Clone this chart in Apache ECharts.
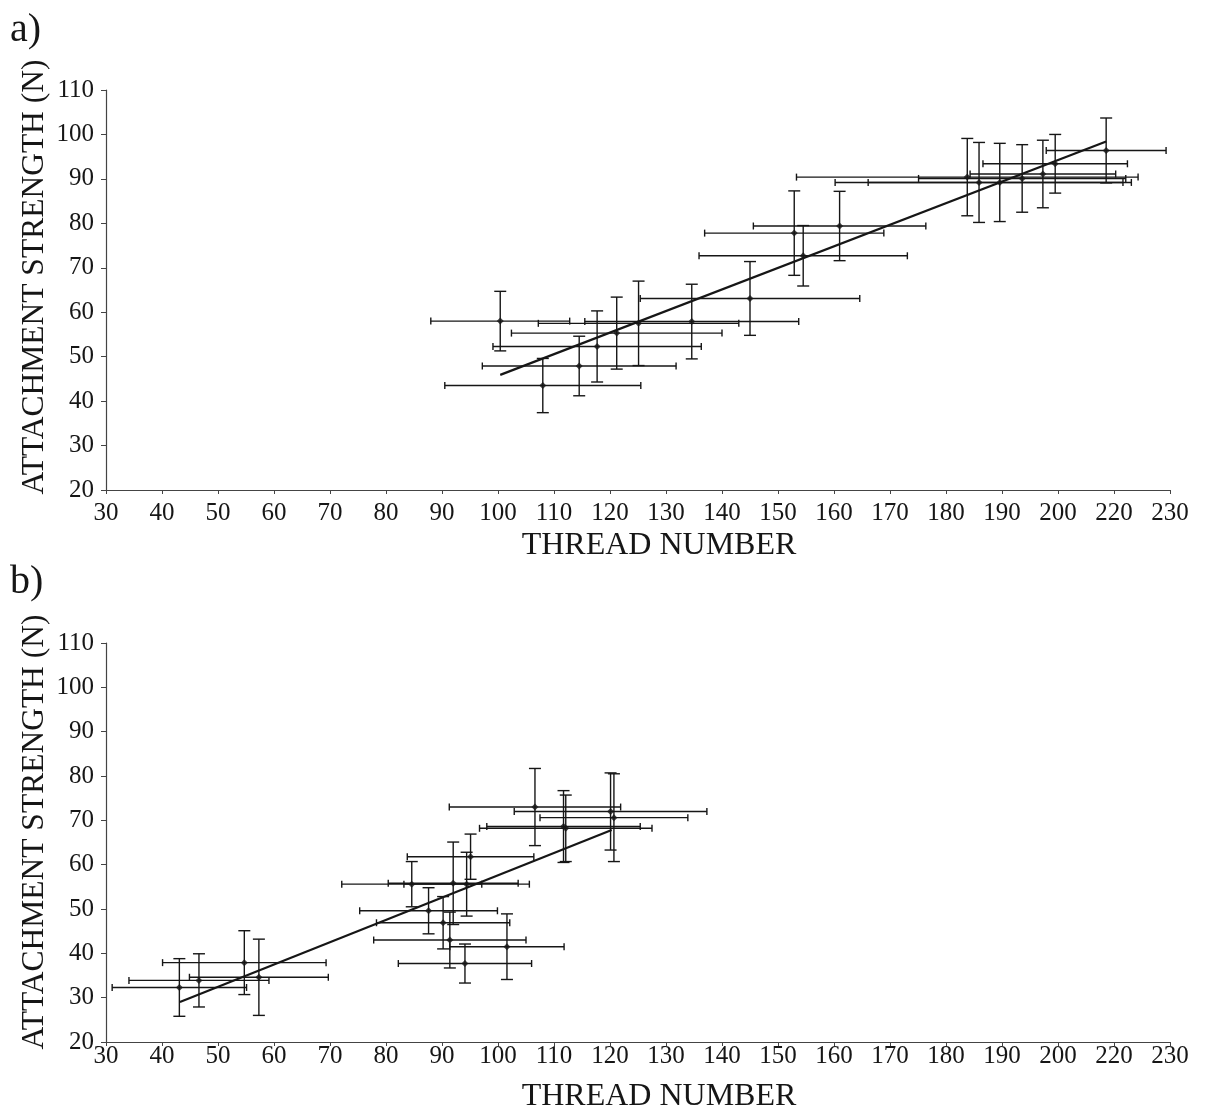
<!DOCTYPE html>
<html><head><meta charset="utf-8">
<script src="https://cdn.jsdelivr.net/npm/echarts@6/dist/echarts.min.js"></script>
<style>html,body{margin:0;padding:0;background:#fff;}#c{width:1207px;height:1118px;}</style>
</head><body><div id="c"></div>
<script>
// x tick labels as printed (the original axis skips 210)
const xTickLabels = ['30','40','50','60','70','80','90','100','110','120','130','140','150','160','170','180','190','200','220','230'];

// Panel a
const aX    = [100.4, 108.0, 114.5, 117.7, 121.2, 125.1, 134.6, 145.0, 152.9, 154.5, 161.0, 183.8, 185.9, 189.6, 193.6, 197.3, 199.5, 208.6];
const aXErr = [12.4, 17.5, 17.3, 18.6, 18.8, 17.9, 19.1, 19.6, 16.0, 18.6, 15.4, 30.5, 25.7, 23.5, 18.5, 13.0, 12.9, 10.7];
const aY    = [58.0, 43.5, 47.9, 52.3, 55.3, 57.5, 57.9, 63.1, 77.8, 72.7, 79.4, 90.4, 89.2, 89.2, 90.1, 91.1, 93.4, 96.4];
const aYErr = [6.7, 6.1, 6.7, 8.0, 8.1, 9.5, 8.4, 8.3, 9.5, 6.8, 7.8, 8.7, 9.0, 8.8, 7.6, 7.6, 6.6, 7.3];
const aFitX = [100.4, 208.6];
const aFitY = [45.9, 98.4];

// Panel b
const bX    = [43.1, 46.6, 54.7, 57.3, 84.6, 92.0, 94.4, 95.1, 87.6, 90.2, 91.4, 101.6, 94.1, 106.6, 120.1, 120.7, 111.7, 112.1];
const bXErr = [12.0, 12.5, 14.6, 12.4, 12.5, 11.6, 11.2, 11.3, 12.3, 11.9, 13.6, 10.2, 11.9, 15.3, 17.2, 13.2, 13.7, 15.4];
const bY    = [32.3, 33.9, 37.9, 34.6, 55.6, 55.8, 55.6, 61.8, 49.6, 46.9, 43.0, 41.5, 37.7, 73.0, 72.0, 70.6, 68.6, 68.2];
const bYErr = [6.5, 6.0, 7.2, 8.6, 5.1, 9.3, 7.2, 5.1, 5.2, 5.9, 6.3, 7.4, 4.4, 8.7, 8.7, 9.9, 8.1, 7.5];
const bFitX = [43.2, 120.3];
const bFitY = [29.0, 67.8];

const SERIF = '"Liberation Serif","Times New Roman",serif';
const INK = '#161616';

function rows(xs, xe, ys, ye) { return xs.map((x, i) => [x, ys[i], xe[i], ye[i]]); }
function pts(xs, ys) { return xs.map((x, i) => [x, ys[i]]); }

function errRender(params, api) {
  const x = api.value(0), y = api.value(1), xe = api.value(2), ye = api.value(3);
  const l = api.coord([x - xe, y]), r = api.coord([x + xe, y]);
  const t = api.coord([x, y + ye]), b = api.coord([x, y - ye]);
  const st = { stroke: INK, lineWidth: 1.4 };
  const cw = 6, ch = 3.5;
  const L = (x1, y1, x2, y2) => ({ type: 'line', shape: { x1, y1, x2, y2 }, style: st });
  return { type: 'group', children: [
    L(l[0], l[1], r[0], r[1]),
    L(t[0], t[1], b[0], b[1]),
    L(l[0], l[1] - ch, l[0], l[1] + ch),
    L(r[0], r[1] - ch, r[0], r[1] + ch),
    L(t[0] - cw, t[1], t[0] + cw, t[1]),
    L(b[0] - cw, b[1], b[0] + cw, b[1])
  ]};
}

function xAxisCfg(gi, margin) {
  return {
    gridIndex: gi, type: 'value', min: 30, max: 220, interval: 10,
    axisLine: { show: true, lineStyle: { color: '#444', width: 1.2 } },
    axisTick: { show: true, length: 4, lineStyle: { color: '#444' } },
    splitLine: { show: false },
    axisLabel: { interval: 0, margin: margin, color: INK, fontFamily: SERIF, fontSize: 25,
      formatter: v => xTickLabels[Math.round((v - 30) / 10)] }
  };
}
function yAxisCfg(gi) {
  return {
    gridIndex: gi, type: 'value', min: 20, max: 110, interval: 10,
    axisLine: { show: true, lineStyle: { color: '#444', width: 1.2 } },
    axisTick: { show: true, length: 5, lineStyle: { color: '#444' } },
    splitLine: { show: false },
    axisLabel: { margin: 12, color: INK, fontFamily: SERIF, fontSize: 25 }
  };
}

const chart = echarts.init(document.getElementById('c'), null, { renderer: 'canvas' });
chart.setOption({
  backgroundColor: '#fff',
  animation: false,
  grid: [
    { left: 106, top: 90, width: 1064, height: 400 },
    { left: 106, top: 643, width: 1064, height: 399 }
  ],
  xAxis: [xAxisCfg(0, 11), xAxisCfg(1, 2)],
  yAxis: [yAxisCfg(0), yAxisCfg(1)],
  graphic: [
    { type: 'text', left: 10, top: 10, style: { text: 'a)', font: '40px ' + SERIF, fill: INK } },
    { type: 'text', left: 10, top: 562, style: { text: 'b)', font: '40px ' + SERIF, fill: INK } },
    { type: 'text', x: 35, y: 277, rotation: Math.PI / 2,
      style: { text: 'ATTACHMENT STRENGTH (N)', font: '31.5px ' + SERIF, fill: INK, textAlign: 'center', textVerticalAlign: 'middle' } },
    { type: 'text', x: 35, y: 832, rotation: Math.PI / 2,
      style: { text: 'ATTACHMENT STRENGTH (N)', font: '31.5px ' + SERIF, fill: INK, textAlign: 'center', textVerticalAlign: 'middle' } },
    { type: 'text', x: 659, y: 546,
      style: { text: 'THREAD NUMBER', font: '32px ' + SERIF, fill: INK, textAlign: 'center', textVerticalAlign: 'middle' } },
    { type: 'text', x: 659, y: 1097,
      style: { text: 'THREAD NUMBER', font: '32px ' + SERIF, fill: INK, textAlign: 'center', textVerticalAlign: 'middle' } }
  ],
  series: [
    { type: 'custom', xAxisIndex: 0, yAxisIndex: 0, renderItem: errRender, data: rows(aX, aXErr, aY, aYErr), encode: { x: 0, y: 1 }, z: 2 },
    { type: 'scatter', xAxisIndex: 0, yAxisIndex: 0, data: pts(aX, aY), symbol: 'diamond', symbolSize: 7, itemStyle: { color: INK }, z: 4 },
    { type: 'line', xAxisIndex: 0, yAxisIndex: 0, data: pts(aFitX, aFitY), showSymbol: false, lineStyle: { color: INK, width: 2.2 }, z: 3 },
    { type: 'custom', xAxisIndex: 1, yAxisIndex: 1, renderItem: errRender, data: rows(bX, bXErr, bY, bYErr), encode: { x: 0, y: 1 }, z: 2 },
    { type: 'scatter', xAxisIndex: 1, yAxisIndex: 1, data: pts(bX, bY), symbol: 'diamond', symbolSize: 7, itemStyle: { color: INK }, z: 4 },
    { type: 'line', xAxisIndex: 1, yAxisIndex: 1, data: pts(bFitX, bFitY), showSymbol: false, lineStyle: { color: INK, width: 2.2 }, z: 3 }
  ]
});
</script></body></html>
